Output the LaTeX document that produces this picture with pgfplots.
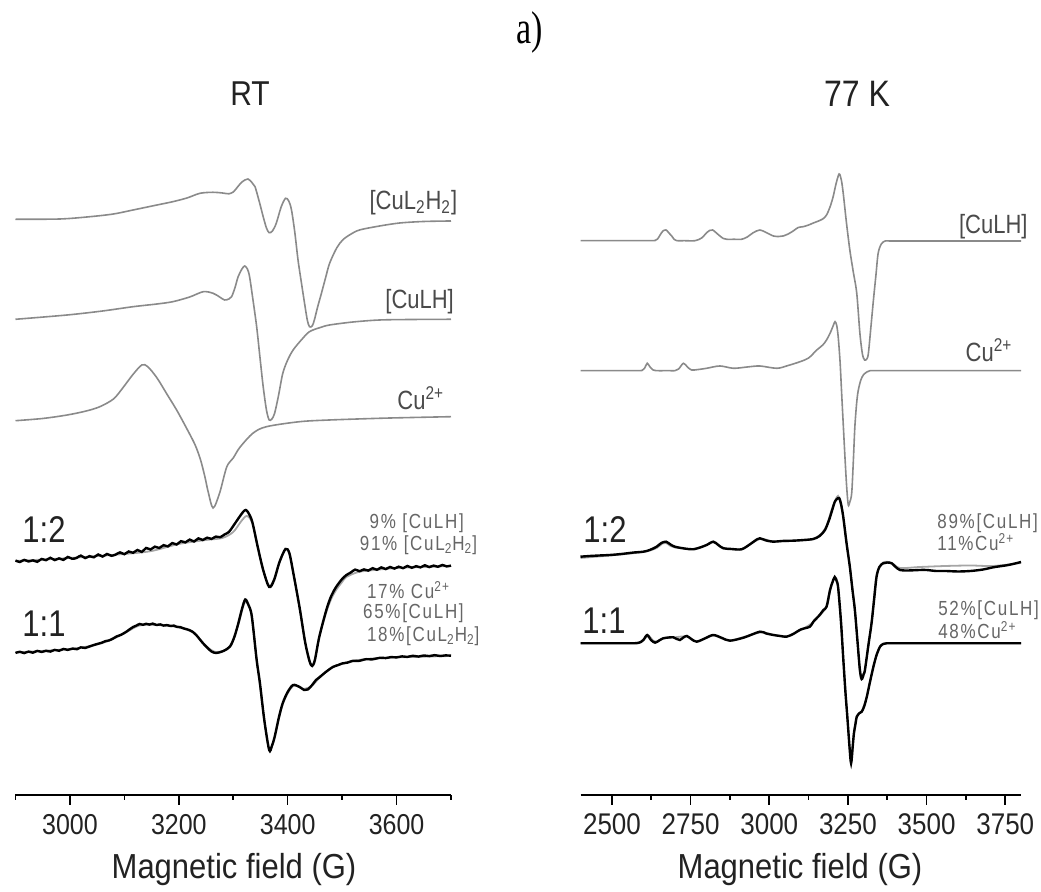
\documentclass[border=0pt]{standalone}
\usepackage{pgfplots}
\pgfplotsset{compat=1.18}
\usepackage{pgfplotstable}
\usepackage{graphicx}
\usepackage{fontspec}
\setmainfont{Liberation Sans}
\newfontfamily\seriffont{Liberation Serif}
\newfontfamily\spacedfont[LetterSpace=10]{Liberation Sans}
\definecolor{refgray}{HTML}{8A8A8A}
\definecolor{simgray}{HTML}{A6A6A6}
\definecolor{labgray}{HTML}{4A4A4A}
\definecolor{pctgray}{HTML}{666666}
\definecolor{dark}{HTML}{222222}
\newcommand{\vs}[2][1.2]{\scalebox{1}[#1]{#2}}

% ---------- RT panel ----------
\pgfplotstableread{
B Y
2900 672.7
2982 673
3037 675.3
3080 678
3116 682
3160 687
3189 690.3
3215 694
3239 698.7
3263 699.7
3280 699
3292 698.2
3300 700
3306 703.7
3316 710
3327 713
3335 709
3340 705.3
3348 690
3355 675.3
3361 664
3366 659.3
3372 661
3379 668.7
3388 685
3396 693.7
3402 691
3407 682
3413 660
3419 632
3425 610
3431 588.7
3436 572
3440 565.3
3445 566
3449 572
3455 585
3462 598.7
3470 615
3477 628.7
3490 644
3501 652
3515 657.5
3532 662
3569 666
3606 669
3650 670.5
3700 671
}\LCuLLHH

\pgfplotstableread{
B Y
2900 572.7
2995 577
3060 581
3116 585.3
3160 588
3189 590.3
3220 595
3245 600.3
3263 598.7
3275 595
3284 592
3292 593
3297 595.3
3303 604
3309 615.3
3316 623
3321 626
3326 623
3330 615.3
3336 593
3343 565.3
3349 535
3355 505.3
3361 482
3366 472
3371 473
3376 478.7
3383 496
3391 518.7
3400 532
3410 542
3425 552
3440 560.3
3460 564.5
3477 567
3520 570
3569 572
3630 572.5
3700 572.7
}\LCuLH

\pgfplotstableread{
B Y
2900 471.3
2950 473.5
2995 477
3030 481
3055 485.3
3080 493
3097 504
3115 517
3132 527
3143 525.3
3160 514
3178 498
3196 482
3215 463
3230 447
3240 432
3248 415
3254 400
3263 384
3275 399
3288 425
3300 434
3312 444.5
3336 458.7
3361 465.3
3422 470.3
3477 472
3569 473.7
3630 474.5
3700 475.3
}\LCu

\pgfplotstableread{
B Y
2900 331.5
2908 330.0
2916 332.1
2924 330.5
2932 331.6
2940 330.2
2948 333.0
2956 331.8
2964 334.2
2972 331.9
2980 333.6
2988 332.1
2996 335.0
3004 333.2
3012 334.0
3020 336.4
3028 333.9
3036 335.8
3044 334.7
3052 337.5
3060 335.4
3068 338.0
3076 336.2
3084 337.4
3092 339.6
3100 337.8
3108 340.5
3116 339.2
3124 342.0
3132 340.1
3140 344.0
3148 342.5
3156 345.3
3164 344.0
3172 346.8
3180 345.6
3188 348.9
3196 347.5
3204 350.8
3212 349.6
3220 352.4
3228 350.5
3236 353.6
3244 352.0
3252 354.3
3260 353.1
3268 355.4
3276 354.8
3284 357.5
3292 360.0
3300 366
3310 374
3318 380
3323 382
3328 379
3335 370
3345 345
3355 322
3366 305
3375 312
3385 330
3396 343
3403 339
3410 320
3422 284
3432 250
3440 231
3445 226
3450 232
3458 255
3471 282
3480 296
3489 305
3500 313
3508 317
3516 319.5
3524 322.4
3532 320.8
3540 322.6
3548 321.4
3556 323.8
3564 322.2
3572 324.6
3580 322.9
3588 325.0
3596 323.4
3604 325.3
3612 323.8
3620 326.0
3628 324.2
3636 325.8
3644 324.6
3652 326.7
3660 324.9
3668 326.4
3676 325.2
3684 327.0
3692 325.6
3700 326.4
}\LAexp

\pgfplotstableread{
B Y
2900 331
3000 334
3100 338
3150 341
3200 348
3250 352
3280 354
3300 360
3315 371
3325 376
3335 369
3345 345
3355 322
3366 306
3375 313
3385 330
3396 343
3403 339
3410 320
3422 284
3432 250
3440 232
3445 227
3450 233
3458 255
3471 280
3480 293
3489 302
3500 310
3508 315
3530 320
3560 322
3600 324
3650 325
3700 326
}\LAsim

\pgfplotstableread{
B Y
2900 239
2908 240.2
2916 238.9
2924 240.4
2932 239.3
2940 241.1
2948 240.0
2956 241.2
2964 240.4
2972 242.1
2980 241.2
2988 243.0
2996 242.1
3005 243.4
3013 242.8
3020 244.6
3028 244.0
3035 245.3
3043 246.8
3050 248
3058 249.2
3065 250.8
3072 251.6
3079 253.4
3086 255.6
3094 257.2
3104 260.4
3110 262.8
3116 265
3122 266.4
3128 268
3134 267.2
3140 268.2
3146 267.4
3152 268.4
3159 267
3166 267.6
3172 266.4
3178 266.9
3185 266
3191 266.4
3196 265.2
3203 264.8
3210 263.4
3218 262.2
3226 260
3232 257
3238 253
3244 249
3251 245
3260 240.5
3269 239
3282 241
3294 245.5
3302 255
3309 268
3316 283
3322 292.5
3328 287
3334 276
3343 232
3349 209
3357 172
3366 142
3371 146
3376 155
3384 175
3391 189
3400 200
3410 207
3422 205
3430 202
3437 202.5
3445 207
3452 212
3459 215
3470 220
3483 225
3492 226.8
3500 228.5
3510 229.4
3520 231.2
3530 231.0
3544 232.8
3555 232.6
3570 234.2
3580 233.9
3590 234.9
3600 234.6
3610 235.6
3620 235.1
3630 236.2
3640 235.4
3650 236.5
3660 235.9
3670 236.8
3680 236.0
3690 236.6
3700 236.3
}\LBexp

\pgfplotstableread{
B Y
2900 239.5
3000 243
3050 247.5
3079 253
3104 260
3128 266.5
3159 267
3196 265
3226 259.5
3251 245.5
3269 240
3294 245
3309 267
3322 290
3334 276
3343 233
3357 173
3366 143
3376 155
3391 188
3410 206
3430 203
3445 206.5
3459 214.5
3483 225
3520 231
3570 234
3700 236
}\LBsim

% ---------- 77 K panel ----------
\pgfplotstableread{
B Y
2400 651.3
2480 651.3
2560 651.3
2600 651.3
2620 651.3
2637 651.5
2645 653
2653 657
2662 661
2672 662
2681 659
2690 656
2698 652.5
2706 651.3
2730 651.3
2764 651.3
2785 654
2801 659.3
2810 661.5
2820 662
2832 659
2843 656
2854 653.5
2865 652.7
2890 652.7
2912 652.7
2930 655
2949 659.3
2970 662
2990 659.5
3013 656
3030 655.5
3044 656
3060 658
3076 661
3092 664.5
3108 665.3
3125 667
3140 669
3151 670.3
3170 673
3182 677
3193 685
3203 695.3
3212 708
3222 718
3229 712
3235 698.7
3245 670
3256 642
3267 620
3278 598.7
3288 558.7
3296 538
3303 532
3310 533
3315 538.7
3323 565
3331 592
3339 617
3346 638.7
3356 648
3368 651
3382 651
3400 651
3430 651
3480 651
3550 651
3650 651
3730 651
3800 651
}\RCuLH

\pgfplotstableread{
B Y
2400 521.3
2480 521.3
2540 521.3
2570 521.3
2585 521.3
2595 521.5
2604 524
2612 528.7
2621 525
2631 522
2645 521.3
2665 521.3
2685 521.3
2700 521.3
2712 523
2727 528.7
2740 525
2753 522
2775 522.5
2801 523.7
2843 526
2886 523.7
2930 525
2970 526
3024 523.7
3060 526.5
3098 530.3
3125 534
3151 542
3170 547
3182 552
3195 560
3204 567
3209 570.3
3214 567
3219 555.3
3225 530
3230 498.7
3236 462
3241 432
3246 405
3251 387
3256 390
3262 399
3267 430
3272 465.3
3278 490
3283 502
3291 512
3299 517
3310 520
3320 521.3
3335 521.3
3355 521.3
3385 521.3
3430 521.3
3500 521.3
3600 521.3
3700 521.3
3800 521.3
}\RCu

\pgfplotstableread{
B Y
2400 335.3
2430 336
2460 336.5
2494 337
2530 338
2570 339.5
2600 340.3
2620 342
2642 345.3
2657 349
2672 350.3
2686 347.5
2700 345.3
2730 343.5
2758 342.7
2785 345
2801 347
2822 350.3
2838 347
2854 343.7
2880 343
2912 342.7
2940 348
2960 352.5
2970 353.7
2990 351.5
3013 350.3
3040 351
3076 351.3
3110 352
3140 353
3160 356
3177 362
3190 372
3200 382
3208 390
3215 393
3222 394
3228 388
3235 375.3
3245 350
3256 325.3
3264 303
3272 282
3280 252
3288 222
3294 213
3300 218
3304 222
3315 247
3325 268.7
3333 292
3341 315.3
3350 325
3362 328.7
3375 329.5
3389 328.7
3400 325.5
3415 322
3440 321.5
3479 322
3500 322
3530 321
3560 321
3600 320.5
3640 321
3680 322.5
3712 324.7
3760 327
3800 330
}\RAexp

\pgfplotstableread{
B Y
2400 334
2494 336.5
2600 340
2642 344
2660 348.5
2672 349
2686 346
2700 344.5
2758 343
2801 347
2822 350
2854 344
2912 343
2970 353
3013 350.5
3076 351.3
3140 353
3177 363
3200 384
3215 395
3222 394
3235 375
3256 325
3272 282
3288 220
3294 213
3304 222
3325 270
3341 317
3362 329.5
3389 329
3415 324
3479 325
3560 326
3640 326.5
3712 326
3800 329
}\RAsim

\pgfplotstableread{
B Y
2400 248.7
2460 248.7
2520 248.7
2560 248.7
2580 248.9
2592 250
2600 252
2612 257
2624 252
2637 249.3
2650 251.5
2663 253.7
2680 254.5
2695 254.7
2706 253
2716 252
2727 254.5
2738 256
2752 253
2769 250.3
2795 253.5
2822 257
2850 254
2875 251.3
2920 254.5
2970 260.3
2990 258.5
3013 257
3035 256
3055 255.3
3076 258
3100 262.5
3129 265.3
3140 270.3
3160 277
3172 282
3182 285.3
3193 302
3201 310
3208 315
3214 311
3219 304
3228 270
3235 234
3242 200
3248 175.3
3255 145
3260 128.7
3265 145
3269 158.7
3274 168
3278 175.3
3285 178.5
3294 180.3
3302 186
3310 195.3
3320 210
3331 225.3
3341 237
3352 245.3
3362 248
3373 248.7
3388 248.7
3410 248.7
3450 248.7
3520 248.7
3620 248.7
3720 248.7
3800 248.7
}\RBexp

\pgfplotstableread{
B Y
2400 248.7
2480 248.7
2550 248.7
2580 249
2594 251
2606 254
2618 256
2630 251.5
2645 250.5
2663 253.5
2695 254.5
2738 255.5
2769 250.5
2822 256.5
2875 251.5
2970 259.5
3013 257
3055 255.5
3100 262
3140 270
3182 285
3193 301
3208 314
3219 304
3235 234
3248 176
3260 130
3269 159
3278 176
3294 181
3310 196
3331 226
3352 245.5
3373 248.7
3395 248.7
3430 248.7
3500 248.7
3600 248.7
3700 248.7
3800 248.7
}\RBsim

\pgfplotsset{
  epr/.style={
    scale only axis, anchor=south west,
    axis y line=none, axis x line=bottom,
    x axis line style={-, line width=1pt, black},
    ymin=97, ymax=792, height=347.5pt,
    tick align=outside, major tick length=5pt, minor tick length=2.5pt,
    every tick/.style={black, line width=0.8pt},
    /pgf/number format/assume math mode=true,
    /pgf/number format/1000 sep={},
    xticklabel={\vs[1.15]{\pgfmathprintnumber{\tick}}},
    clip=false,
  },
  refc/.style={refgray, line width=0.8pt, smooth, no marks},
  simc/.style={simgray, line width=0.9pt, smooth, no marks},
  expc/.style={black, line width=1.2pt, smooth, no marks},
}
\tikzset{
  cl/.style={text=labgray, font=\fontsize{11}{13}\selectfont, inner sep=0pt},
  pl/.style={text=pctgray, font=\spacedfont\fontsize{8.5}{10}\selectfont, inner sep=0pt, anchor=west},
  rl/.style={text=dark, font=\fontsize{15.5}{18}\selectfont, inner sep=0pt, anchor=west},
}

\begin{document}
\begin{tikzpicture}[x=0.5pt,y=0.5pt]
\path[use as bounding box] (0,0) rectangle (1041,892);

\begin{axis}[epr, at={(7.75pt,48.5pt)}, width=217.75pt,
  xmin=2900, xmax=3700,
  xtick={3000,3200,3400,3600}, minor xtick={2900,3100,3300,3500,3700},
  xticklabel style={font=\fontsize{12.5}{14}\selectfont, text=dark, anchor=base, yshift=-15pt}]
\addplot[refc] table {\LCuLLHH};
\addplot[refc] table {\LCuLH};
\addplot[refc] table {\LCu};
\addplot[simc] table {\LAsim};
\addplot[expc] table {\LAexp};
\addplot[simc] table {\LBsim};
\addplot[expc] table {\LBexp};
\node[cl, anchor=east] at (axis cs:3712,689) {\vs{[CuL\textsubscript{2}H\textsubscript{2}]}};
\node[cl, anchor=east] at (axis cs:3706,590) {\vs{[CuLH]}};
\node[cl, anchor=east] at (axis cs:3688,494) {\vs{Cu\textsuperscript{2+}}};
\node[rl] at (axis cs:2912,362) {\vs{1:2}};
\node[rl] at (axis cs:2912,268) {\vs{1:1}};
\node[pl] at (axis cs:3550,369) {\vs{9\% [CuLH]}};
\node[pl] at (axis cs:3532,347) {\vs{91\% [CuL\textsubscript{2}H\textsubscript{2}]}};
\node[pl] at (axis cs:3545,302) {\vs{17\% Cu\textsuperscript{2+}}};
\node[pl] at (axis cs:3538,279) {\vs{65\%[CuLH]}};
\node[pl] at (axis cs:3545,256) {\vs{18\%[CuL\textsubscript{2}H\textsubscript{2}]}};
\end{axis}

\begin{axis}[epr, at={(290.25pt,48.5pt)}, width=220.25pt,
  xmin=2400, xmax=3800,
  xtick={2500,2750,3000,3250,3500,3750}, minor xtick={2625,2875,3125,3375,3625},
  xticklabel style={font=\fontsize{13}{15}\selectfont, text=dark, anchor=base, yshift=-15pt}]
\addplot[refc] table {\RCuLH};
\addplot[refc] table {\RCu};
\addplot[simc] table {\RAsim};
\addplot[expc] table {\RAexp};
\addplot[simc] table {\RBsim};
\addplot[expc] table {\RBexp};
\node[cl, anchor=east] at (axis cs:3822,665) {\vs{[CuLH]}};
\node[cl, anchor=east] at (axis cs:3774,542) {\vs{Cu\textsuperscript{2+}}};
\node[rl] at (axis cs:2408,362) {\vs{1:2}};
\node[rl] at (axis cs:2405,271) {\vs{1:1}};
\node[pl] at (axis cs:3533,369) {\vs{89\%[CuLH]}};
\node[pl] at (axis cs:3533,350) {\vs{11\%Cu\textsuperscript{2+}}};
\node[pl] at (axis cs:3536,282) {\vs{52\%[CuLH]}};
\node[pl] at (axis cs:3536,262) {\vs{48\%Cu\textsuperscript{2+}}};
\end{axis}

\node[font=\seriffont\fontsize{17}{20}\selectfont] at (530,860) {\vs[1.35]{a)}};
\node[text=dark, font=\fontsize{15}{17}\selectfont] at (250,798) {\vs[1.15]{RT}};
\node[text=dark, font=\fontsize{16}{18}\selectfont] at (857,798) {\vs[1.15]{77 K}};
\node[text=dark, font=\fontsize{15.5}{18}\selectfont, anchor=base] at (234,13) {\vs[1.12]{Magnetic field (G)}};
\node[text=dark, font=\fontsize{15.5}{18}\selectfont, anchor=base] at (800,13) {\vs[1.12]{Magnetic field (G)}};
\end{tikzpicture}
\end{document}
